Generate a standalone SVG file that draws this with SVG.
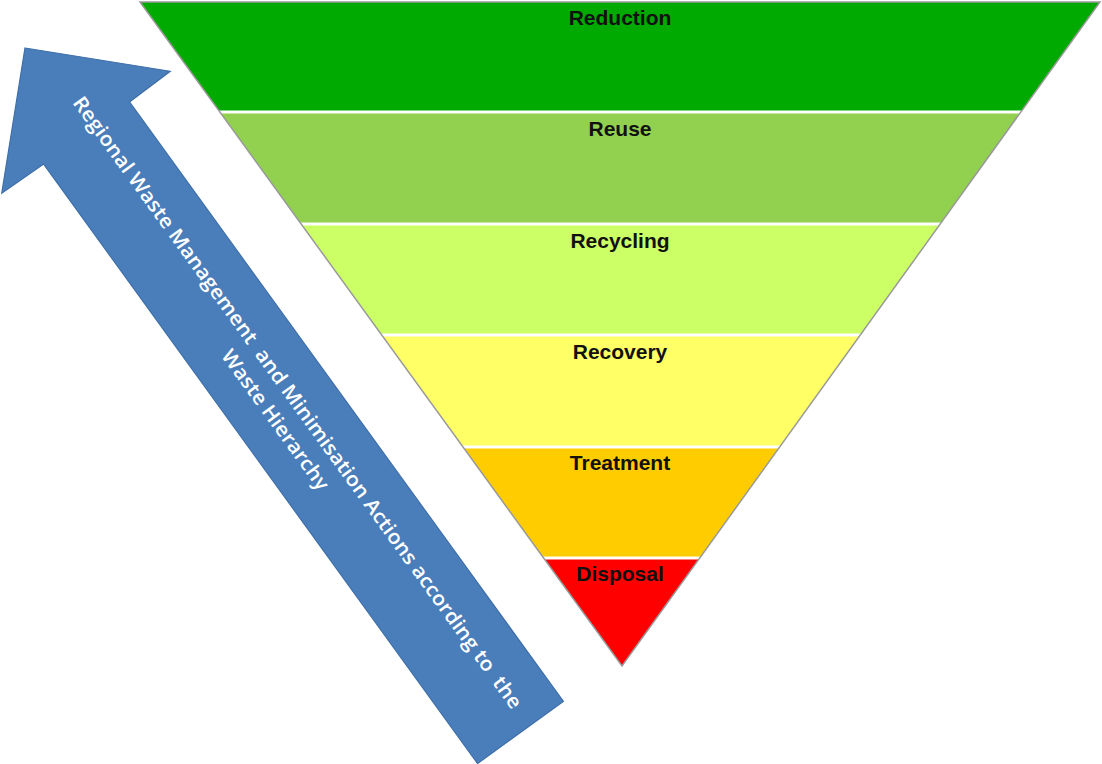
<svg xmlns="http://www.w3.org/2000/svg" width="1102" height="764" viewBox="0 0 1102 764">
  <style>
    .lbl { font-family: "Liberation Sans", Arial, sans-serif; font-weight: bold; font-size: 21px; fill: #111; text-anchor: middle; }
    .arrtxt { font-family: "Open Sans", "Liberation Sans", sans-serif; font-weight: 600; font-size: 20px; fill: #ffffff; text-anchor: middle; white-space: pre; }
    .sep { stroke: #ffffff; stroke-width: 3; }
  </style>
  <defs>
    <clipPath id="tri">
      <polygon points="140,2 1100,2 622,666"/>
    </clipPath>
  </defs>
  <rect width="1102" height="764" fill="#ffffff"/>

  <g id="arrow" transform="translate(25,48) rotate(54.1)">
    <path d="M0,0 L104,-104 L105,-53 L845,-53 L845,53 L105,53 L104,104 Z" fill="#4a7ebb" stroke="#3e6fa8" stroke-width="1.2" stroke-linejoin="miter"/>
    <text class="arrtxt" x="447" y="-6" textLength="750" lengthAdjust="spacingAndGlyphs">Regional Waste Management  and Minimisation Actions according to  the</text>
    <text class="arrtxt" x="448" y="22" textLength="168" lengthAdjust="spacingAndGlyphs">Waste Hierarchy</text>
  </g>

  <g clip-path="url(#tri)">
    <g id="reduction"><rect x="130" y="0" width="980" height="112" fill="#00aa00"/></g>
    <g id="reuse"><rect x="130" y="112" width="980" height="112" fill="#92d050"/></g>
    <g id="recycling"><rect x="130" y="224" width="980" height="111" fill="#ccff66"/></g>
    <g id="recovery"><rect x="130" y="335" width="980" height="112" fill="#ffff66"/></g>
    <g id="treatment"><rect x="130" y="447" width="980" height="111" fill="#ffcc00"/></g>
    <g id="disposal"><rect x="130" y="558" width="980" height="110" fill="#ff0000"/></g>
    <g id="connectors">
      <line class="sep" x1="130" y1="112" x2="1110" y2="112"/>
      <line class="sep" x1="130" y1="224" x2="1110" y2="224"/>
      <line class="sep" x1="130" y1="335" x2="1110" y2="335"/>
      <line class="sep" x1="130" y1="447" x2="1110" y2="447"/>
      <line class="sep" x1="130" y1="558" x2="1110" y2="558"/>
    </g>
  </g>
  <polygon points="140,2 1100,2 622,666" fill="none" stroke="#999999" stroke-width="1.5"/>

  <g id="labels">
    <text class="lbl" x="620" y="25">Reduction</text>
    <text class="lbl" x="620" y="136">Reuse</text>
    <text class="lbl" x="620" y="248">Recycling</text>
    <text class="lbl" x="620" y="359">Recovery</text>
    <text class="lbl" x="620" y="470">Treatment</text>
    <text class="lbl" x="620" y="581">Disposal</text>
  </g>
</svg>
